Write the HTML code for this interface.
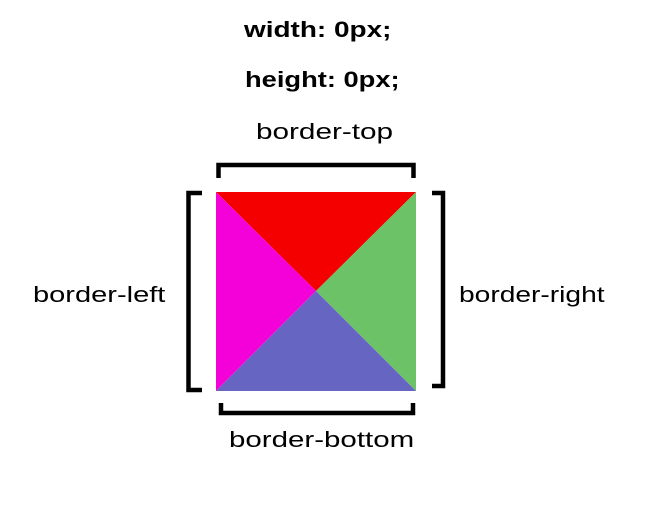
<!DOCTYPE html>
<html><head><meta charset="utf-8"><style>
body{margin:0;width:662px;height:510px;background:#fff;overflow:hidden;position:relative;font-family:"Liberation Sans",sans-serif;color:#000}
.t{position:absolute;font-size:22px;white-space:nowrap;line-height:1;transform-origin:0 0}
.b{font-weight:bold}
</style></head><body>
<div class="t b" style="left:244px;top:19px;transform:scaleX(1.27)">width: 0px;</div>
<div class="t b" style="left:245px;top:69px;transform:scaleX(1.24)">height: 0px;</div>
<div class="t" style="left:256px;top:121px;transform:scaleX(1.35)">border-top</div>
<div class="t" style="left:33px;top:284px;transform:scaleX(1.32)">border-left</div>
<div class="t" style="left:459px;top:284px;transform:scaleX(1.28)">border-right</div>
<div class="t" style="left:229px;top:429px;transform:scaleX(1.34)">border-bottom</div>
<svg width="662" height="510" style="position:absolute;left:0;top:0">
<polygon points="216,192 416,192 316,291" fill="#f40000"/>
<polygon points="416,192 416,391 316,291" fill="#6cc266"/>
<polygon points="216,391 416,391 316,291" fill="#6666c2"/>
<polygon points="216,192 216,391 316,291" fill="#f400d8"/>
<g fill="none" stroke="#000" stroke-width="4.5">
<polyline points="218.5,178 218.5,165 413.5,165 413.5,178"/>
<polyline points="221,403 221,413 413,413 413,403"/>
<polyline points="202,193 188.5,193 188.5,390 202,390"/>
<polyline points="432,193 443,193 443,386 432,386"/>
</g>
</svg>
</body></html>
